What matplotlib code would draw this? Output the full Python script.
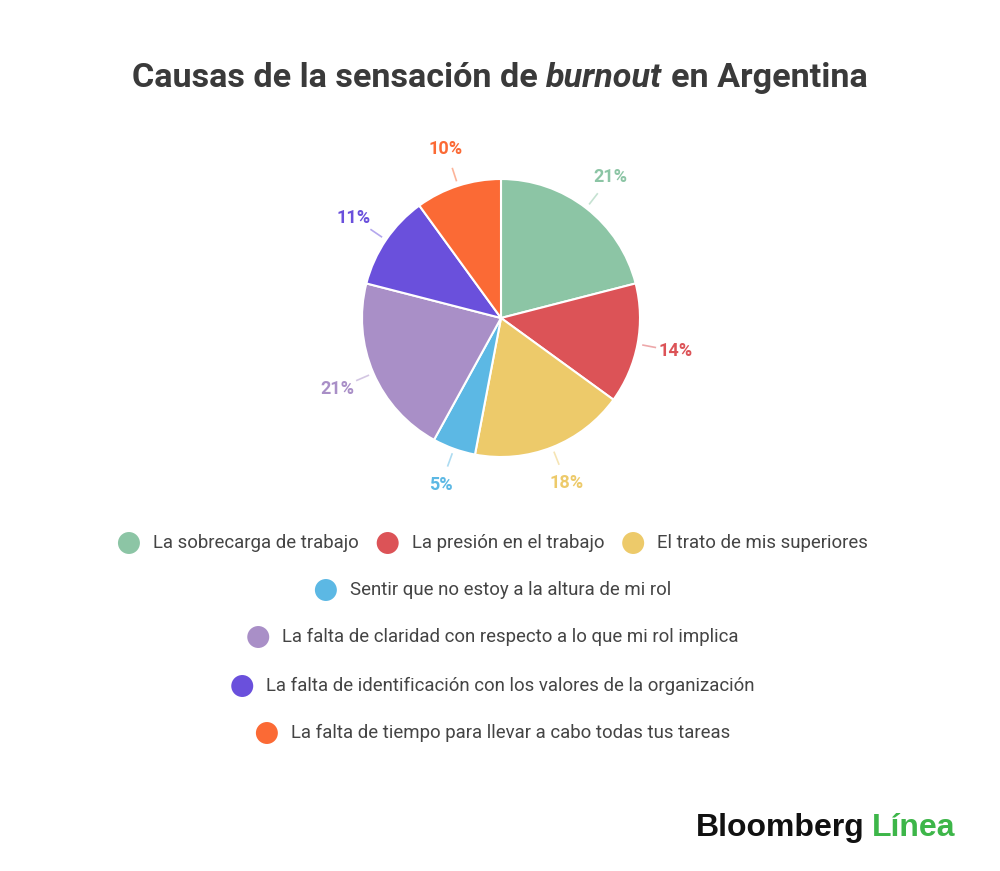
import matplotlib
matplotlib.use("Agg")
import matplotlib.pyplot as plt
import numpy as np

# data
categories = [
    "La sobrecarga de trabajo",
    "La presión en el trabajo",
    "El trato de mis superiores",
    "Sentir que no estoy a la altura de mi rol",
    "La falta de claridad con respecto a lo que mi rol implica",
    "La falta de identificación con los valores de la organización",
    "La falta de tiempo para llevar a cabo todas tus tareas",
]
values = [21, 14, 18, 5, 21, 11, 10]
colors = ["#8cc5a5", "#dc5357", "#edca6a", "#5cb8e4", "#a98fc7", "#6a50dc", "#fb6a35"]
legend_rows = [[0, 1, 2], [3], [4], [5], [6]]

W, H = 1000, 871
fig = plt.figure(figsize=(W / 100, H / 100), dpi=100)
fig.patch.set_facecolor("white")
r = fig.canvas.get_renderer()

def px_w(t):
    return t.get_window_extent(r).width

def fx(x):
    return x / W

def fy(y):
    # y in pixels from top
    return 1 - y / H

#--- pie
ax = fig.add_axes([0.2925, 0.3955, 0.417, 0.4788])
wedges, _ = ax.pie(values, colors=colors, startangle=90, counterclock=False,
                   wedgeprops=dict(edgecolor="white", linewidth=1.5))
ax.set_xlim(-1.5, 1.5)
ax.set_ylim(-1.5, 1.5)
ax.set_aspect("equal")
ax.axis("off")

for w, v, c in zip(wedges, values, colors):
    a = np.deg2rad((w.theta1 + w.theta2) / 2)
    ax.plot([1.04 * np.cos(a), 1.13 * np.cos(a)], [1.04 * np.sin(a), 1.13 * np.sin(a)],
            color=c, lw=1.2, alpha=0.5)
    ax.text(1.28 * np.cos(a), 1.28 * np.sin(a), f"{v}%", color=c, fontsize=13,
            fontweight="bold", family="Roboto", ha="center", va="center")

#--- title with italic word
title_parts = [("Causas de la sensación de", "normal"), ("burnout", "italic"), ("en Argentina", "normal")]
ts = 24.6
tmp = fig.text(0, 0, "a a", fontsize=ts, fontweight="bold", family="Roboto")
tmp2 = fig.text(0, 0, "aa", fontsize=ts, fontweight="bold", family="Roboto")
space = px_w(tmp) - px_w(tmp2)
tmp.remove(); tmp2.remove()
texts = [fig.text(0, fy(78), s, fontsize=ts, fontweight="bold", style=st, family="Roboto",
                  color="#3a3a3a", va="center") for s, st in title_parts]
widths = [px_w(t) for t in texts]
x = 500 - (sum(widths) + space * (len(texts) - 1)) / 2
for t, wd in zip(texts, widths):
    t.set_x(fx(x))
    x += wd + space

#--- legend rows (overlay axes in pixel coords for the dots)
ov = fig.add_axes([0, 0, 1, 1])
ov.set_xlim(0, W)
ov.set_ylim(H, 0)
ov.axis("off")
row_y = [543, 590, 637, 686, 733]
ls = 13.4
for row, y in zip(legend_rows, row_y):
    items = []
    for i in row:
        t = fig.text(0, fy(y), categories[i], fontsize=ls, family="Roboto", color="#444444", va="center")
        items.append((i, t, px_w(t)))
    total = sum(35 + wd for _, _, wd in items) + 18 * (len(items) - 1)
    x = 493 - total / 2 + 11
    for i, t, wd in items:
        ov.scatter([x], [y], s=250, color=colors[i], edgecolors="none")
        t.set_x(fx(x + 24))
        x += 24 + wd + 29

#--- logo
lg1 = fig.text(0, fy(828), "Bloomberg", fontsize=23, fontweight="bold", family="Liberation Sans",
               color="#111111", va="center")
lg2 = fig.text(0, fy(828), "Línea", fontsize=23, fontweight="bold", family="Liberation Sans",
               color="#3db649", va="center")
w1, w2 = px_w(lg1), px_w(lg2)
lg1.set_x(fx(955 - w1 - w2 - 7))
lg2.set_x(fx(955 - w2))

fig.savefig("out.png", dpi=100, facecolor="white")
